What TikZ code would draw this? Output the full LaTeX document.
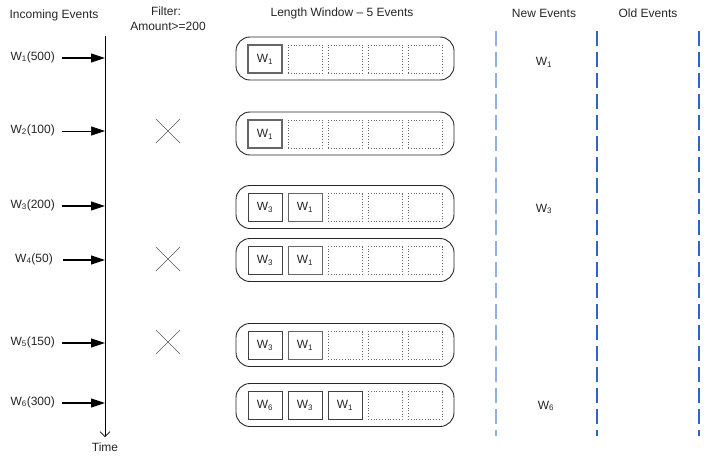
\documentclass[tikz,border=0pt]{standalone}
\usepackage{fontspec}
\setmainfont{Liberation Sans}
\usetikzlibrary{arrows.meta}
\definecolor{txt}{HTML}{262626}
\definecolor{lightblue}{HTML}{8FB0E0}
\definecolor{midblue}{HTML}{2F64CC}
\tikzset{
  lbl/.style={font=\fontsize{12}{14}\selectfont, text=txt, inner sep=0pt},
  win/.style={draw=black!85, line width=0.9pt, rounded corners=14pt, minimum width=218pt, minimum height=43pt},
  fullbox/.style={draw=black!75, line width=1pt, minimum width=34pt, minimum height=28pt, font=\fontsize{12}{14}\selectfont, text=txt, inner sep=0pt},
  emptybox/.style={draw=black!60, dotted, line width=0.8pt, minimum width=34pt, minimum height=28pt},
  evarrow/.style={line width=1.1pt, -{Triangle[length=14pt,width=9pt]}},
  xmark/.style={draw=black!65, line width=0.7pt},
  sep/.style={line width=1.3pt, dash pattern=on 15pt off 6pt},
}
\begin{document}
\begin{tikzpicture}[x=1pt,y=-1pt]
\useasboundingbox (0,0) rectangle (707,460);
% headers
\node[lbl] (hin) at (54,15) {Incoming Events};
\node[lbl] (hf1) at (166,11) {Filter:};
\node[lbl] (hf2) at (168,26) {Amount>=200};
\node[lbl] (hlw) at (342,13) {Length Window – 5 Events};
\node[lbl] (hnew) at (544,13) {New Events};
\node[lbl] (hold) at (648,13) {Old Events};
% timeline
\coordinate (ttop) at (105,36);
\coordinate (tbot) at (105,437);
\draw[line width=0.9pt, -{Straight Barb[length=5pt,width=10pt,line width=0.6pt]}] (ttop) -- (tbot);
\node[lbl] (time) at (105,447) {Time};
% incoming labels
\node[lbl, anchor=east] (l1) at (55,57) {W\textsubscript{1}(500)};
\node[lbl, anchor=east] (l2) at (55,130) {W\textsubscript{2}(100)};
\node[lbl, anchor=east] (l3) at (55,205) {W\textsubscript{3}(200)};
\node[lbl, anchor=east] (l4) at (53,259) {W\textsubscript{4}(50)};
\node[lbl, anchor=east] (l5) at (55,342) {W\textsubscript{5}(150)};
\node[lbl, anchor=east] (l6) at (55,402) {W\textsubscript{6}(300)};
\coordinate (t1) at (105,58);
\coordinate (t2) at (105,131);
\coordinate (t3) at (105,206);
\coordinate (t4) at (105,260);
\coordinate (t5) at (105,343);
\coordinate (t6) at (105,403);
\draw[evarrow] (l1.east |- t1) ++(7,0) -- (t1);
\draw[line width=0.6pt, -{Triangle[length=14pt,width=9pt]}] (l2.east |- t2) ++(7,0) -- (t2);
\draw[evarrow] (l3.east |- t3) ++(7,0) -- (t3);
\draw[evarrow] (l4.east |- t4) ++(10,0) -- (t4);
\draw[evarrow] (l5.east |- t5) ++(7,0) -- (t5);
\draw[evarrow] (l6.east |- t6) ++(7,0) -- (t6);
% filter crosses
\foreach \n/\y in {x2/131, x4/259, x5/342}{
  \coordinate (\n) at (168,\y);
  \draw[xmark] (\n) ++(-12,-12) -- ++(24,24);
  \draw[xmark] (\n) ++(12,-12) -- ++(-24,24);
}
% windows
\node[win] (w1) at (345,58.5) {};
\node[win] (w2) at (345,133.5) {};
\node[win] (w3) at (345,207) {};
\node[win] (w4) at (345,260) {};
\node[win] (w5) at (345,345) {};
\node[win] (w6) at (345,405) {};
% window contents
\node[fullbox, draw=black!60, line width=1.3pt] (w1a) at (265,59) {W\textsubscript{1}};
\node[emptybox] (w1b) at (305,59) {};
\node[emptybox] (w1c) at (345,59) {};
\node[emptybox] (w1d) at (385,59) {};
\node[emptybox] (w1e) at (425,59) {};
\node[fullbox, draw=black!60, line width=1.3pt] (w2a) at (265,134) {W\textsubscript{1}};
\node[emptybox] (w2b) at (305,134) {};
\node[emptybox] (w2c) at (345,134) {};
\node[emptybox] (w2d) at (385,134) {};
\node[emptybox] (w2e) at (425,134) {};
\node[fullbox] (w3a) at (265,207.5) {W\textsubscript{3}};
\node[fullbox, draw=black!60] (w3b) at (305,207.5) {W\textsubscript{1}};
\node[emptybox] (w3c) at (345,207.5) {};
\node[emptybox] (w3d) at (385,207.5) {};
\node[emptybox] (w3e) at (425,207.5) {};
\node[fullbox] (w4a) at (265,260.5) {W\textsubscript{3}};
\node[fullbox, draw=black!60] (w4b) at (305,260.5) {W\textsubscript{1}};
\node[emptybox] (w4c) at (345,260.5) {};
\node[emptybox] (w4d) at (385,260.5) {};
\node[emptybox] (w4e) at (425,260.5) {};
\node[fullbox] (w5a) at (265,345.5) {W\textsubscript{3}};
\node[fullbox, draw=black!60] (w5b) at (305,345.5) {W\textsubscript{1}};
\node[emptybox] (w5c) at (345,345.5) {};
\node[emptybox] (w5d) at (385,345.5) {};
\node[emptybox] (w5e) at (425,345.5) {};
\node[fullbox] (w6a) at (265,405.5) {W\textsubscript{6}};
\node[fullbox] (w6b) at (305,405.5) {W\textsubscript{3}};
\node[fullbox] (w6c) at (345,405.5) {W\textsubscript{1}};
\node[emptybox] (w6d) at (385,405.5) {};
\node[emptybox] (w6e) at (425,405.5) {};
% new events
\node[lbl] (n1) at (544,62) {W\textsubscript{1}};
\node[lbl] (n3) at (544,209) {W\textsubscript{3}};
\node[lbl] (n6) at (546,406) {W\textsubscript{6}};
% separators
\coordinate (s1t) at (496,31); \coordinate (s1b) at (496,436);
\coordinate (s2t) at (597,31); \coordinate (s2b) at (597,436);
\coordinate (s3t) at (699,31); \coordinate (s3b) at (699,436);
\draw[sep, lightblue] (s1t) -- (s1b);
\draw[sep, midblue] (s2t) -- (s2b);
\draw[sep, midblue] (s3t) -- (s3b);
\end{tikzpicture}
\end{document}
